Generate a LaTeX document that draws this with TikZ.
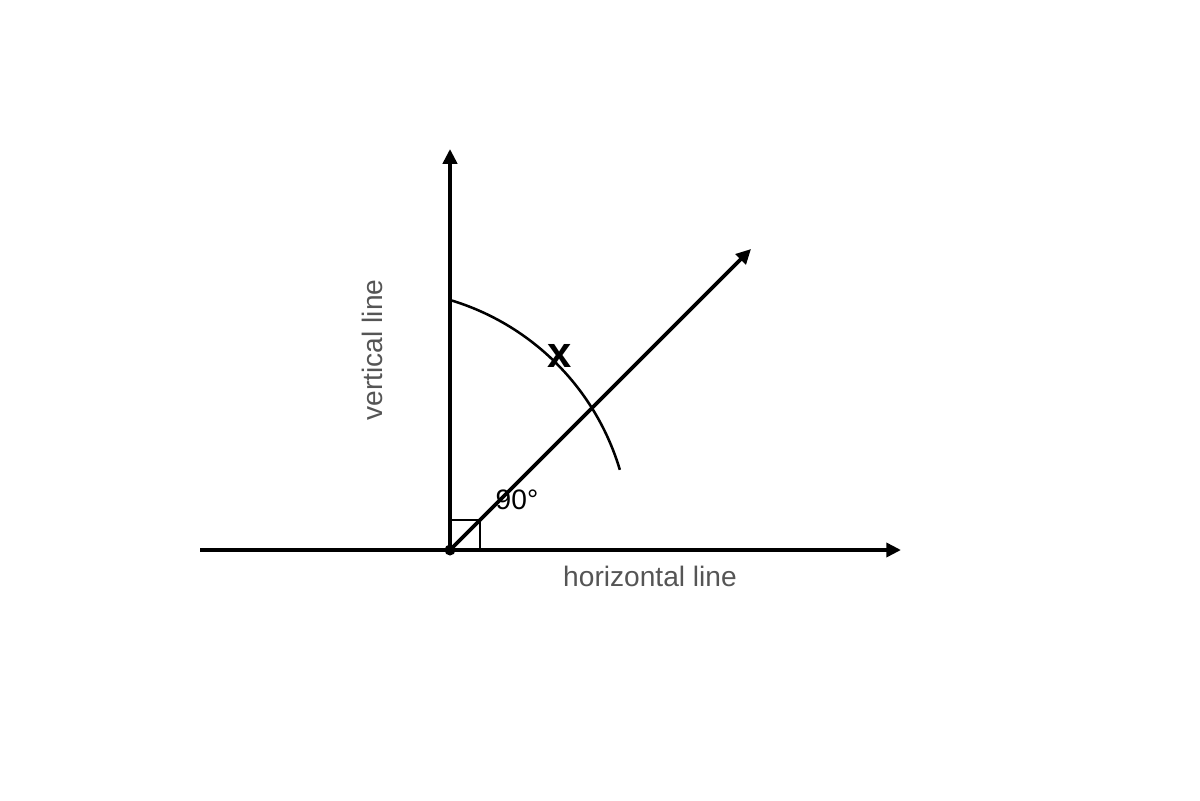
\documentclass[tikz,border=0pt]{standalone}
\usepackage{fontspec}
\setmainfont{Liberation Sans}
\usetikzlibrary{arrows.meta}
\definecolor{labelgray}{HTML}{555555}
\begin{document}
\begin{tikzpicture}[x=0.025cm,y=-0.025cm,
  axis/.style={line width=2.6pt,-{Triangle[length=10.5pt,width=10pt]}},
  thin/.style={line width=1.8pt},
  lbl/.style={font=\fontsize{20pt}{22pt}\selectfont,inner sep=0pt}]
\useasboundingbox (0,0) rectangle (1200,800);
\coordinate (O) at (450,550);
\coordinate (L) at (200,550);
\coordinate (R) at (901,550);
\coordinate (T) at (450,149);
\coordinate (D) at (751,249);
\draw[axis] (L) -- (R);
\draw[axis] (O) -- (T);
\draw[axis] (O) -- (D);
\draw[thin] (450,520) -- (480,520) -- (480,550);
\fill (O) circle (5.5);
\draw[thin] (450,300) arc[start angle=-73.4,end angle=-16.6,radius=252.5];
\node[lbl,text=labelgray,rotate=90] (vl) at (372,350) {vertical line};
\node[lbl,text=labelgray] (hl) at (650,576) {horizontal line};
\node[lbl] (ang) at (517,500) {90°};
\node[inner sep=0pt,font=\fontsize{31pt}{33pt}\selectfont\bfseries] (x) at (560,356) {x};
\end{tikzpicture}
\end{document}
